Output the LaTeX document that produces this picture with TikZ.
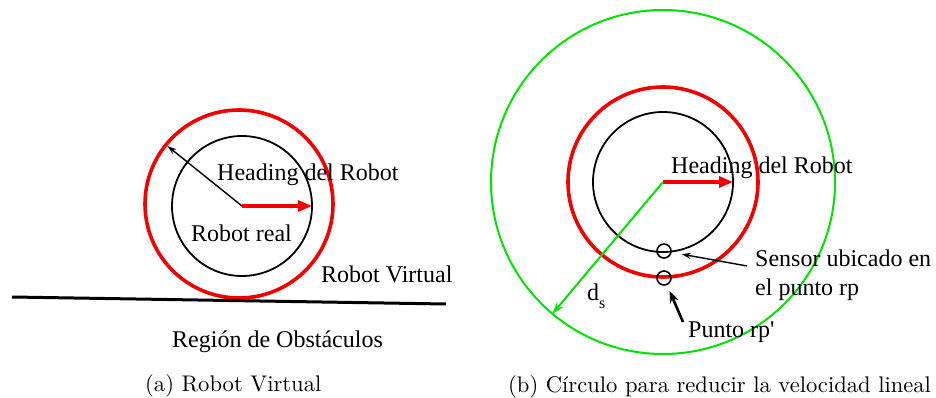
\documentclass[tikz,border=0pt]{standalone}
\usepackage{fontspec}
\newfontfamily\figfont{Liberation Serif}
\newfontfamily\capfont{lmroman10-regular}[Extension=.otf]
\usetikzlibrary{arrows.meta}
\definecolor{robred}{RGB}{240,0,0}
\definecolor{safegreen}{RGB}{0,225,0}
\begin{document}
\begin{tikzpicture}[x=1pt,y=-1pt,
  ring/.style={circle,draw,inner sep=0pt,outer sep=0pt},
  realbody/.style={ring,line width=1.8pt,minimum size=140pt},
  virtbody/.style={ring,draw=robred,line width=3.6pt},
  marker/.style={ring,line width=1.6pt,minimum size=14pt},
  lbl/.style={inner sep=0pt,anchor=base west,font=\figfont\fontsize{24}{28}\selectfont},
  captext/.style={inner sep=0pt,anchor=base west,font=\capfont\fontsize{22.6}{26}\selectfont},
  heading/.style={draw=robred,line width=3.2pt,-{Triangle[length=14pt,width=11pt]}},
  thinarrow/.style={line width=1.4pt,-{Stealth[length=9pt,width=6pt]}},
  thickarrow/.style={line width=2.6pt,-{Stealth[length=12pt,width=9pt]}}]
\useasboundingbox (0,0) rectangle (936,398);

% ---- (a) virtual robot next to the obstacle region ----
\node[virtbody,minimum size=188pt] (virtA) at (239,204) {};
\node[realbody] (realA) at (242,206) {};
\coordinate (floorL) at (12,297);
\coordinate (floorR) at (446,304);
\draw[line width=3pt] (floorL) -- (floorR);
\draw[thinarrow,shorten >=2pt] (realA.center) -- (virtA.141.5);
\draw[heading] (realA.center) -- (realA.east);
\node[lbl] (headA) at (217,181) {Heading del Robot};
\node[lbl] (realtxt) at (191,241) {Robot real};
\node[lbl] (virttxt) at (321,282) {Robot Virtual};
\node[lbl] (obst) at (172,347) {Región de Obstáculos};
\node[captext] (capA) at (145,391) {(a) Robot Virtual};

% ---- (b) circle for reducing the linear speed ----
\node[ring,draw=safegreen,line width=2pt,minimum size=344pt] (slowB) at (663,182) {};
\node[virtbody,minimum size=190pt] (virtB) at (663,182) {};
\node[realbody] (realB) at (663,182) {};
\node[marker] (sensor) at (664,251) {};
\node[marker] (rpprime) at (664,278) {};
\draw[heading] (realB.center) -- (realB.east);
\draw[draw=safegreen,line width=2pt,-{Stealth[length=12pt,width=8pt]}] (realB.center) -- (slowB.230);
\node[lbl] (headB) at (671,174) {Heading del Robot};
\node[lbl] (sentxt) at (755,266) {Sensor ubicado en};
\node[lbl] (sentxt2) at (755,295) {el punto rp};
\node[lbl] (rptxt) at (688,337) {Punto rp'};
\node[lbl] (dstxt) at (587,300) {d\raisebox{-8pt}{\fontsize{16}{16}\selectfont s}};
\coordinate (senfrom) at (747,266);
\coordinate (rpfrom) at (683,322);
\draw[thinarrow,shorten >=11pt] (senfrom) -- (sensor);
\draw[thickarrow,shorten >=7pt] (rpfrom) -- (rpprime);
\node[captext] (capB) at (508,392) {(b) Círculo para reducir la velocidad lineal};
\end{tikzpicture}
\end{document}
